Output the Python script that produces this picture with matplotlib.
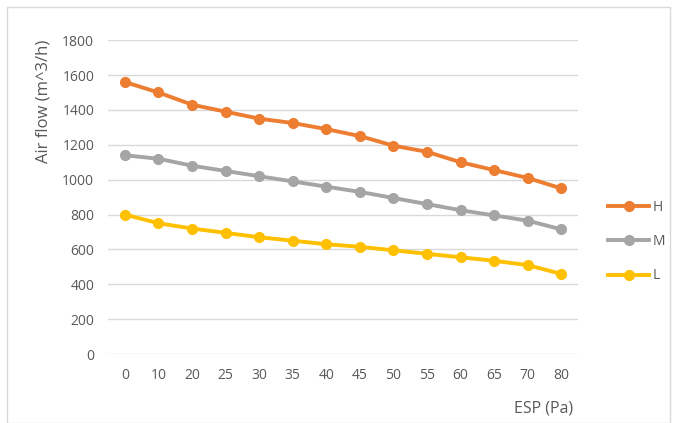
import matplotlib.pyplot as plt
from matplotlib.patches import Rectangle

# Data
esp = ['0', '10', '20', '25', '30', '35', '40', '45', '50', '55', '60', '65', '70', '80']
h_flow = [1560, 1500, 1430, 1390, 1350, 1325, 1290, 1250, 1195, 1160, 1100, 1055, 1010, 950]
m_flow = [1140, 1120, 1080, 1050, 1020, 990, 960, 930, 895, 860, 825, 795, 765, 715]
l_flow = [800, 750, 720, 695, 670, 650, 630, 615, 595, 575, 555, 535, 510, 460]

plt.rcParams['font.family'] = ['Open Sans', 'DejaVu Sans']
text_color = '#595959'

fig = plt.figure(figsize=(6.76, 4.23), dpi=100)
ax = fig.add_axes([0.160, 0.163, 0.695, 0.742])

x = range(len(esp))
ax.plot(x, h_flow, color='#ED7D31', lw=2.8, marker='o', ms=7, label='H')
ax.plot(x, m_flow, color='#A5A5A5', lw=2.8, marker='o', ms=7, label='M')
ax.plot(x, l_flow, color='#FFC000', lw=2.8, marker='o', ms=7, label='L')

ax.set_xlim(-0.5, len(esp) - 0.5)
ax.set_ylim(0, 1800)
ax.set_yticks(range(0, 1801, 200))
ax.set_xticks(list(x))
ax.set_xticklabels(esp)
ax.grid(axis='y', color='#D9D9D9', lw=1)
ax.set_axisbelow(True)
for s in ax.spines.values():
    s.set_visible(False)
ax.tick_params(length=0, labelsize=10, colors=text_color, pad=10)

# axis titles (Excel style: y title at top, x title at right)
fig.text(0.064, 0.905, 'Air flow (m^3/h)', fontsize=12, color=text_color,
         rotation=90, ha='center', va='top')
fig.text(0.848, 0.035, 'ESP (Pa)', fontsize=11.5, color=text_color, ha='right', va='center')

leg = fig.legend(loc='center left', bbox_to_anchor=(0.900, 0.429), frameon=False,
                 fontsize=10, labelspacing=1.4, handlelength=2.9, handletextpad=0.3,
                 borderpad=0, borderaxespad=0)
for t in leg.get_texts():
    t.set_color(text_color)

# light chart border
fig.patches.append(Rectangle((0.0104, 0.0), 0.98, 0.983, transform=fig.transFigure,
                             fill=False, edgecolor='#D9D9D9', lw=1))

plt.savefig('out.png', dpi=100)
